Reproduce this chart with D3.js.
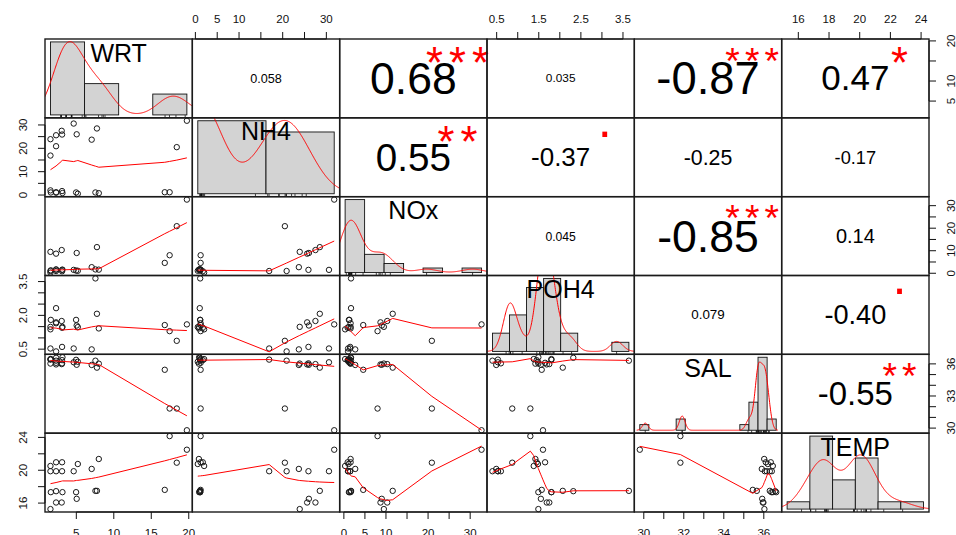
<!DOCTYPE html>
<html>
<head>
<meta charset="utf-8">
<script src="https://cdn.jsdelivr.net/npm/d3@7"></script>
<style>
  html, body { margin: 0; padding: 0; background: #fff; }
  svg { display: block; }
  text { font-family: "Liberation Sans", Arial, Helvetica, sans-serif; }
</style>
</head>
<body>
<svg id="chart" width="956" height="535"></svg>
<script>
// ---- data: one value per sample, same sample order in every array ----
const variables = ["WRT", "NH4", "NOx", "POH4", "SAL", "TEMP"];
const WRT  = [1.55, 1.55, 1.55, 1.60, 2.30, 2.30, 2.30, 2.30, 3.05, 3.10, 3.10, 3.15,
              4.65, 5.05, 4.97, 5.20, 7.05, 7.75, 7.55, 8.00, 16.80, 17.45, 18.40, 19.75];
const NH4  = [23.9, 16.9, 2.0, 1.1, 25.6, 20.9, 1.2, 1.0, 27.5, 25.9, 1.7, 0.86,
              30.6, 26.0, 1.1, 0.55, 23.7, 28.5, 1.1, 0.8, 1.2, 1.2, 20.5, 31.8];
const NOx  = [9.5, 1.0, 0.3, 1.3, 8.7, 1.0, 1.6, 1.7, 10.3, 1.5, 0.9, 1.6,
              1.5, 9.0, 1.2, 1.1, 2.7, 11.6, 1.7, 1.6, 4.6, 8.0, 20.9, 32.7];
const POH4 = [1.49, 0.53, 1.38, 1.80, 1.69, 0.40, 1.65, 2.32, 1.75, 0.60, 1.45, 1.49,
              0.53, 1.55, 1.80, 1.48, 0.49, 2.07, 3.64, 1.42, 1.57, 1.30, 0.87, 1.60];
const SAL  = [36.03, 36.40, 36.45, 36.45, 35.95, 36.30, 36.10, 36.57, 35.98, 36.05, 36.35, 36.62,
              36.15, 35.92, 36.38, 36.20, 35.90, 35.65, 36.30, 36.02, 35.45, 31.83, 31.83, 29.80];
const TEMP = [15.27, 19.88, 20.52, 17.33, 16.07, 19.88, 20.97, 17.45, 16.07, 19.88, 20.97, 17.33,
              19.88, 16.52, 17.33, 20.76, 20.16, 17.49, 17.49, 21.37, 17.61, 24.16, 20.92, 22.50];

// histogram break points for the diagonal panels
const breaksWRT  = [0, 5, 10, 15, 20];
const breaksNH4  = [0, 20, 40];
const breaksNOx  = [0, 5, 10, 15, 20, 25, 30, 35];
const breaksPOH4 = [0, 0.5, 1, 1.5, 2, 2.5, 3, 3.5, 4];
const breaksSAL  = [29.5, 30, 30.5, 31, 31.5, 32, 32.5, 33, 33.5, 34, 34.5, 35, 35.5, 36, 36.5, 37];
const breaksTEMP = [14, 16, 18, 20, 22, 24, 26];

// correlation labels for the upper panels, row by row
const corrLabels = ["0.058", "0.68", "0.035", "-0.87", "0.47",
                    "0.55", "-0.37", "-0.25", "-0.17",
                    "0.045", "-0.85", "0.14",
                    "0.079", "-0.40",
                    "-0.55"];
const corrStars  = ["", "***", "", "***", "*",
                    "**", ".", "", "",
                    "", "***", "",
                    "", ".",
                    "**"];

// ---- layout ----
const LEFT = 45, TOP = 39, RIGHT = 929, BOTTOM = 512;
const PW = (RIGHT - LEFT) / 6, PH = (BOTTOM - TOP) / 6;
const FONT = '"Liberation Sans", Arial, Helvetica, sans-serif';
const TICK_FS = 11.5, LABEL_FS = 25;

const columns = [WRT, NH4, NOx, POH4, SAL, TEMP];
const breaks = [breaksWRT, breaksNH4, breaksNOx, breaksPOH4, breaksSAL, breaksTEMP];
const n = WRT.length;
const svg = d3.select("#chart");
svg.append("rect").attr("width", 956).attr("height", 535).attr("fill", "#fff");

const ctx = document.createElement("canvas").getContext("2d");
function metrics(txt, size) { ctx.font = `${size}px ${FONT}`; return ctx.measureText(txt); }

// text whose ink is centred on (x, y)
function inkText(g, txt, x, y, size, fill) {
  const m = metrics(txt, size);
  const base = y + (m.actualBoundingBoxAscent - m.actualBoundingBoxDescent) / 2;
  return g.append("text").attr("x", x).attr("y", base)
    .attr("text-anchor", "middle").attr("font-size", size).attr("fill", fill).text(txt);
}

function extent4(v) { const [a, b] = d3.extent(v); const s = (b - a) * 0.04; return [a - s, b + s]; }
const domains = columns.map(extent4);
const xScales = columns.map((v, k) => d3.scaleLinear().domain(domains[k]).range([LEFT + k * PW, LEFT + (k + 1) * PW]));
const yScales = columns.map((v, k) => d3.scaleLinear().domain(domains[k]).range([TOP + (k + 1) * PH, TOP + k * PH]));

// axis tick positions in the style of R's axis pretty()
function rPretty(lo, up, ndiv = 5) {
  const h = 0.8, h5 = 1.7;
  const cell = (up - lo) / ndiv;
  const base = Math.pow(10, Math.floor(Math.log10(cell)));
  let unit = base, ns;
  if ((ns = 2 * base) - cell < h * (cell - unit)) { unit = ns;
    if ((ns = 5 * base) - cell < h5 * (cell - unit)) { unit = ns;
      if ((ns = 10 * base) - cell < h * (cell - unit)) unit = ns; } }
  const s = Math.ceil(lo / unit - 1e-9), e = Math.floor(up / unit + 1e-9);
  return d3.range(s, e + 1).map(k => +(k * unit).toFixed(10));
}
// common number of decimals for a set of tick labels
function tickFormat(ticks) {
  const dec = d3.max(ticks, t => { const s = String(t); const p = s.indexOf("."); return p < 0 ? 0 : s.length - p - 1; });
  return t => t.toFixed(dec);
}

// locally weighted scatterplot smoothing (same scheme as R's lowess)
function lowess(xIn, yIn, f = 2 / 3, nsteps = 3) {
  const n = xIn.length;
  const ord = d3.range(n).sort((a, b) => xIn[a] - xIn[b] || a - b);
  const x = [0, ...ord.map(i => xIn[i])], y = [0, ...ord.map(i => yIn[i])];
  const ys = new Array(n + 1).fill(0), rw = new Array(n + 1).fill(0), res = new Array(n + 1).fill(0);
  const delta = 0.01 * (x[n] - x[1]);
  const ns = Math.max(2, Math.min(n, Math.floor(f * n + 1e-7)));
  const range = x[n] - x[1];
  function lowest(xs, nleft, nright, userw) {
    const w = res;
    const h = Math.max(xs - x[nleft], x[nright] - xs);
    const h9 = 0.999 * h, h1 = 0.001 * h;
    let a = 0, j = nleft;
    while (j <= n) {
      w[j] = 0;
      const r = Math.abs(x[j] - xs);
      if (r <= h9) {
        if (r <= h1) w[j] = 1; else { const q = r / h; w[j] = Math.pow(1 - q * q * q, 3); }
        if (userw) w[j] *= rw[j];
        a += w[j];
      } else if (x[j] > xs) break;
      j++;
    }
    const nrt = j - 1;
    if (a <= 0) return null;
    for (j = nleft; j <= nrt; j++) w[j] /= a;
    if (h > 0) {
      a = 0;
      for (j = nleft; j <= nrt; j++) a += w[j] * x[j];
      let b = xs - a, c = 0;
      for (j = nleft; j <= nrt; j++) c += w[j] * (x[j] - a) * (x[j] - a);
      if (Math.sqrt(c) > 0.001 * range) {
        b /= c;
        for (j = nleft; j <= nrt; j++) w[j] *= (b * (x[j] - a) + 1);
      }
    }
    let out = 0;
    for (j = nleft; j <= nrt; j++) out += w[j] * y[j];
    return out;
  }
  let iter = 1;
  while (iter <= nsteps + 1) {
    let nleft = 1, nright = ns, last = 0, i = 1;
    for (;;) {
      if (nright < n) {
        const d1 = x[i] - x[nleft], d2 = x[nright + 1] - x[i];
        if (d1 > d2) { nleft++; nright++; continue; }
      }
      const v = lowest(x[i], nleft, nright, iter > 1);
      ys[i] = v === null ? y[i] : v;
      if (last < i - 1) {
        const denom = x[i] - x[last];
        for (let j = last + 1; j < i; j++) {
          const alpha = (x[j] - x[last]) / denom;
          ys[j] = alpha * ys[i] + (1 - alpha) * ys[last];
        }
      }
      last = i;
      const cut = x[last] + delta;
      for (i = last + 1; i <= n; i++) {
        if (x[i] > cut) break;
        if (x[i] === x[last]) { ys[i] = ys[last]; last = i; }
      }
      i = Math.max(last + 1, i - 1);
      if (last >= n) break;
    }
    for (let k = 1; k <= n; k++) res[k] = y[k] - ys[k];
    let sc = 0;
    for (let k = 1; k <= n; k++) sc += Math.abs(res[k]);
    sc /= n;
    if (iter > nsteps) break;
    const srt = d3.range(1, n + 1).map(k => Math.abs(res[k])).sort((a, b) => a - b);
    const m1 = Math.floor(n / 2);
    let cmad;
    if (n % 2 === 0) { const m2 = n - m1 - 1; cmad = 3 * (srt[m1] + srt[m2]); }
    else cmad = 6 * srt[m1];
    if (cmad < 1e-7 * sc) break;
    const c9 = 0.999 * cmad, c1 = 0.001 * cmad;
    for (let k = 1; k <= n; k++) {
      const r = Math.abs(res[k]);
      if (r <= c1) rw[k] = 1;
      else if (r <= c9) { const q = r / cmad; rw[k] = (1 - q * q) * (1 - q * q); }
      else rw[k] = 0;
    }
    iter++;
  }
  return d3.range(1, n + 1).map(k => [x[k], ys[k]]);
}

// Gaussian kernel density with the nrd0 bandwidth rule
function kde(values) {
  const s = values.slice().sort((a, b) => a - b);
  const sd = d3.deviation(s);
  let lo = Math.min(sd, (d3.quantileSorted(s, 0.75) - d3.quantileSorted(s, 0.25)) / 1.34);
  if (!lo) lo = sd || Math.abs(s[0]) || 1;
  const bw = 0.9 * lo * Math.pow(s.length, -0.2);
  const from = s[0] - 3 * bw, to = s[s.length - 1] + 3 * bw;
  return d3.range(512).map(i => {
    const x = from + i * (to - from) / 511;
    const d = d3.mean(s, v => Math.exp(-0.5 * ((x - v) / bw) ** 2)) / (bw * Math.sqrt(2 * Math.PI));
    return [x, d];
  });
}

const defs = svg.append("defs");
const panels = svg.append("g");
let corrIndex = 0;

for (let i = 0; i < 6; i++) {
  for (let j = 0; j < 6; j++) {
    const x0 = LEFT + j * PW, y0 = TOP + i * PH;
    const g = panels.append("g");
    if (i === j) {
      // histogram, density curve, rug and variable name
      const v = columns[i], b = breaks[i];
      const span = b[b.length - 1] - b[0];
      const hx = d3.scaleLinear().domain([b[0] - 0.04 * span, b[b.length - 1] + 0.04 * span]).range([x0, x0 + PW]);
      const counts = d3.range(b.length - 1).map(k =>
        v.filter(d => (k === 0 ? d >= b[k] : d > b[k]) && d <= b[k + 1]).length);
      const dens = counts.map((c, k) => c / (n * (b[k + 1] - b[k])));
      const ymax = d3.max(dens);
      const hy = d3.scaleLinear().domain([-0.04 * ymax, 1.04 * ymax]).range([y0 + PH, y0]);
      const cid = "clip" + i;
      defs.append("clipPath").attr("id", cid).append("rect")
        .attr("x", x0).attr("y", y0).attr("width", PW).attr("height", PH);
      const cg = g.append("g").attr("clip-path", `url(#${cid})`);
      cg.selectAll("rect.bar").data(dens).join("rect").attr("class", "bar")
        .attr("x", (d, k) => hx(b[k])).attr("width", (d, k) => hx(b[k + 1]) - hx(b[k]))
        .attr("y", d => hy(d)).attr("height", d => hy(0) - hy(d))
        .attr("fill", "#d3d3d3").attr("stroke", "#111").attr("stroke-width", 0.9);
      cg.append("path").datum(kde(v))
        .attr("d", d3.line().x(d => hx(d[0])).y(d => hy(d[1])))
        .attr("fill", "none").attr("stroke", "#ff0000").attr("stroke-width", 1);
      cg.selectAll("line.rug").data(v).join("line").attr("class", "rug")
        .attr("x1", d => hx(d)).attr("x2", d => hx(d))
        .attr("y1", y0 + PH).attr("y2", y0 + PH - 0.035 * PH)
        .attr("stroke", "#111").attr("stroke-width", 0.8);
      inkText(g, variables[i], x0 + 0.5 * PW, y0 + 0.172 * PH, LABEL_FS, "#000");
    } else if (i > j) {
      // scatter with lowess smoother
      const xs = columns[j], ysv = columns[i];
      const sx = xScales[j], sy = yScales[i];
      g.selectAll("circle").data(d3.range(n)).join("circle")
        .attr("cx", k => sx(xs[k])).attr("cy", k => sy(ysv[k])).attr("r", 2.7)
        .attr("fill", "none").attr("stroke", "#1a1a1a").attr("stroke-width", 1);
      g.append("path").datum(lowess(xs, ysv))
        .attr("d", d3.line().x(d => sx(d[0])).y(d => sy(d[1])))
        .attr("fill", "none").attr("stroke", "#ff0000").attr("stroke-width", 1);
    } else {
      // correlation coefficient, sized by its magnitude, with significance stars
      const label = corrLabels[corrIndex], stars = corrStars[corrIndex];
      corrIndex++;
      const r = parseFloat(label);
      const unitW = metrics(label, 100).width / 100;
      const fs0 = 0.78 * PW / unitW;
      inkText(g, label, x0 + 0.5 * PW, y0 + 0.5 * PH, fs0 * (Math.abs(r) + 0.3) / 1.3, "#000");
      if (stars) {
        const cx = x0 + 0.8 * PW, cy = y0 + 0.2 * PH;
        const adv = metrics(stars[0], fs0).width;
        const glyphFs = stars[0] === "*" ? fs0 * 0.74 : fs0;
        const m = stars.length;
        for (let s = 0; s < m; s++) {
          inkText(g, stars[s], cx + (s - (m - 1) / 2) * adv, cy, glyphFs, "#ff0000");
        }
      }
    }
    g.append("rect").attr("x", x0).attr("y", y0).attr("width", PW).attr("height", PH)
      .attr("fill", "none").attr("stroke", "#1a1a1a").attr("stroke-width", 1.4);
  }
}

// ---- outer axes, alternating sides as in a pairs plot ----
const axes = svg.append("g").attr("font-size", TICK_FS);
const gapW = metrics("m", TICK_FS).width;
const TL = 7;

function drawAxis(side, k) {
  const vertical = side === "left" || side === "right";
  const sc = vertical ? yScales[k] : xScales[k];
  const dom = domains[k];
  const ticks = rPretty(dom[0], dom[1]);
  const fmt = tickFormat(ticks);
  const edge = { top: TOP, bottom: BOTTOM, left: LEFT, right: RIGHT }[side];
  const out = (side === "top" || side === "left") ? -1 : 1;
  const g = axes.append("g");
  const p0 = sc(ticks[0]), p1 = sc(ticks[ticks.length - 1]);
  if (vertical) g.append("line").attr("x1", edge).attr("x2", edge).attr("y1", p0).attr("y2", p1);
  else g.append("line").attr("x1", p0).attr("x2", p1).attr("y1", edge).attr("y2", edge);
  ticks.forEach(t => {
    const p = sc(t);
    if (vertical) g.append("line").attr("x1", edge).attr("x2", edge + out * TL).attr("y1", p).attr("y2", p);
    else g.append("line").attr("x1", p).attr("x2", p).attr("y1", edge).attr("y2", edge + out * TL);
  });
  g.selectAll("line").attr("stroke", "#111").attr("stroke-width", 1);
  let tlast = -Infinity;
  ticks.forEach(t => {
    const txt = fmt(t);
    const w = metrics(txt, TICK_FS).width;
    const p = sc(t);
    const along = vertical ? -p : p;
    if (along - w / 2 - tlast < gapW) return;
    tlast = along + w / 2;
    if (side === "top") g.append("text").attr("x", p).attr("y", 23).attr("text-anchor", "middle").text(txt);
    else if (side === "bottom") g.append("text").attr("x", p).attr("y", 536.7).attr("text-anchor", "middle").text(txt);
    else {
      const bx = side === "left" ? 26.5 : 954.5;
      g.append("text").attr("transform", `translate(${bx},${p}) rotate(-90)`)
        .attr("text-anchor", "middle").text(txt);
    }
  });
  g.selectAll("text").attr("fill", "#111");
}

[1, 3, 5].forEach(k => drawAxis("top", k));
[0, 2, 4].forEach(k => drawAxis("bottom", k));
[1, 3, 5].forEach(k => drawAxis("left", k));
[0, 2, 4].forEach(k => drawAxis("right", k));
</script>
</body>
</html>
